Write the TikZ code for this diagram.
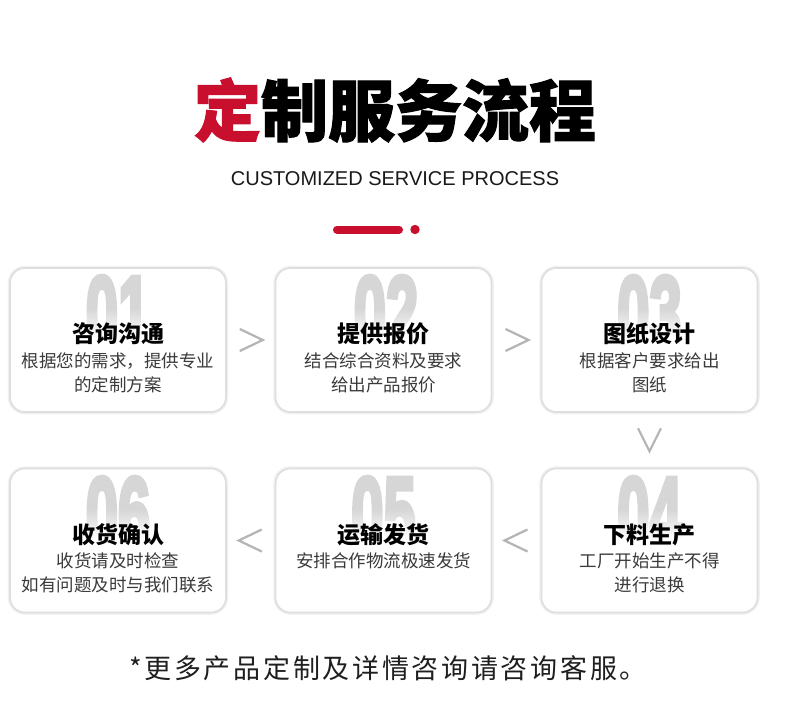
\documentclass[tikz,border=0pt]{standalone}
\usepackage{fontspec}
\setmainfont{Liberation Sans}
\newfontfamily\cjk{Noto Sans CJK SC}
\newfontfamily\cjkheavy{Noto Sans CJK SC}[BoldFeatures={FakeBold=1.6}]
\newfontfamily\cjkfoot{Noto Sans CJK SC}[LetterSpace=10]
\newfontfamily\numf{Liberation Sans Bold}[FakeBold=5]
\usetikzlibrary{fadings}
\definecolor{brandred}{HTML}{C8102E}
\definecolor{cardline}{HTML}{DEDEDE}
\definecolor{cardshadow}{HTML}{F1F1F1}
\definecolor{numgray}{HTML}{D6D6D6}
\definecolor{chevgray}{HTML}{B4B4B4}
\definecolor{desctext}{HTML}{3A3A3A}
\begin{document}
\begin{tikzpicture}[x=1pt,y=-1pt,
  card/.style={draw=cardline, line width=1.6pt, rounded corners=15pt, fill=white,
    minimum width=216pt, minimum height=144pt, inner sep=0pt,
    preaction={draw=cardshadow, line width=4.5pt}},
  bignum/.style={inner sep=0pt, anchor=north, text=numgray,
    font=\numf\fontsize{40}{40}\selectfont},
  cardtitle/.style={inner sep=0pt, font=\cjk\bfseries\fontsize{23}{26}\selectfont, text=black},
  carddesc/.style={inner sep=0pt, font=\cjk\fontsize{17.5}{22}\selectfont, text=desctext},
  chev/.style={draw=chevgray, line width=2.2pt, line cap=butt, line join=miter}
]
\useasboundingbox (0,0) rectangle (790,716);
\fill[white] (0,0) rectangle (790,716);

% title
\node[inner sep=0pt, font=\cjkheavy\bfseries\fontsize{67}{70}\selectfont] (title) at (395,110)
  {{\color{brandred}定}制服务流程};
\node[inner sep=0pt, font=\fontsize{20}{22}\selectfont, text=black!90] (sub) at (395,179)
  {CUSTOMIZED SERVICE PROCESS};
\draw[brandred, line width=8pt, line cap=round] (337,229.5) -- (399,229.5);
\fill[brandred] (415,229.5) circle (4.7pt);

% cards
\node[card] (c1) at (118,340) {};
\node[card] (c2) at (383.5,340) {};
\node[card] (c3) at (649.5,340) {};
\node[card] (c4) at (649.5,540.5) {};
\node[card] (c5) at (383.5,540.5) {};
\node[card] (c6) at (118,540.5) {};

% big numbers
\foreach \n/\x/\y in {01/118/276, 02/386/276, 03/649.5/276, 04/649.5/477, 05/383.5/477, 06/118/477}{
  \node[bignum] (num\n) at (\x,\y) {\scalebox{1.45}[2.6]{\n}};
  \fill[white, path fading=north] (\x-62,\y+32) rectangle (\x+62,\y+62);
  \fill[white] (\x-62,\y+62) rectangle (\x+62,\y+82);
}

% card texts
\node[cardtitle] (t1) at (118,334) {咨询沟通};
\node[carddesc] (d1a) at (118,361) {根据您的需求，提供专业};
\node[carddesc] (d1b) at (118,385) {的定制方案};

\node[cardtitle] (t2) at (383.5,334) {提供报价};
\node[carddesc] (d2a) at (383.5,361) {结合综合资料及要求};
\node[carddesc] (d2b) at (383.5,385) {给出产品报价};

\node[cardtitle] (t3) at (649.5,334) {图纸设计};
\node[carddesc] (d3a) at (649.5,361) {根据客户要求给出};
\node[carddesc] (d3b) at (649.5,385) {图纸};

\node[cardtitle] (t4) at (649.5,535) {下料生产};
\node[carddesc] (d4a) at (649.5,561) {工厂开始生产不得};
\node[carddesc] (d4b) at (649.5,585) {进行退换};

\node[cardtitle] (t5) at (383.5,535) {运输发货};
\node[carddesc] (d5a) at (383.5,561) {安排合作物流极速发货};

\node[cardtitle] (t6) at (118,535) {收货确认};
\node[carddesc] (d6a) at (118,561) {收货请及时检查};
\node[carddesc] (d6b) at (118,585) {如有问题及时与我们联系};

% chevrons
\path (c1.east) -- (c2.west) coordinate[midway] (a12);
\path (c2.east) -- (c3.west) coordinate[midway] (a23);
\path (c3.south) -- (c4.north) coordinate[midway] (a34);
\path (c4.west) -- (c5.east) coordinate[midway] (a45);
\path (c5.west) -- (c6.east) coordinate[midway] (a56);
\draw[chev] ([shift={(-11,-11)}]a12) -- ([shift={(12,0)}]a12) -- ([shift={(-11,11)}]a12);
\draw[chev] ([shift={(-11,-11)}]a23) -- ([shift={(12,0)}]a23) -- ([shift={(-11,11)}]a23);
\draw[chev] ([shift={(-11.5,-12)}]a34) -- ([shift={(0,11)}]a34) -- ([shift={(11.5,-12)}]a34);
\draw[chev] ([shift={(11,-11)}]a45) -- ([shift={(-12,0)}]a45) -- ([shift={(11,11)}]a45);
\draw[chev] ([shift={(11,-11)}]a56) -- ([shift={(-12,0)}]a56) -- ([shift={(11,11)}]a56);

% footer
\node[inner sep=0pt, font=\cjkfoot\fontsize{27}{30}\selectfont, text=black!88] (foot) at (388,668)
  {*更多产品定制及详情咨询请咨询客服。};
\end{tikzpicture}
\end{document}
